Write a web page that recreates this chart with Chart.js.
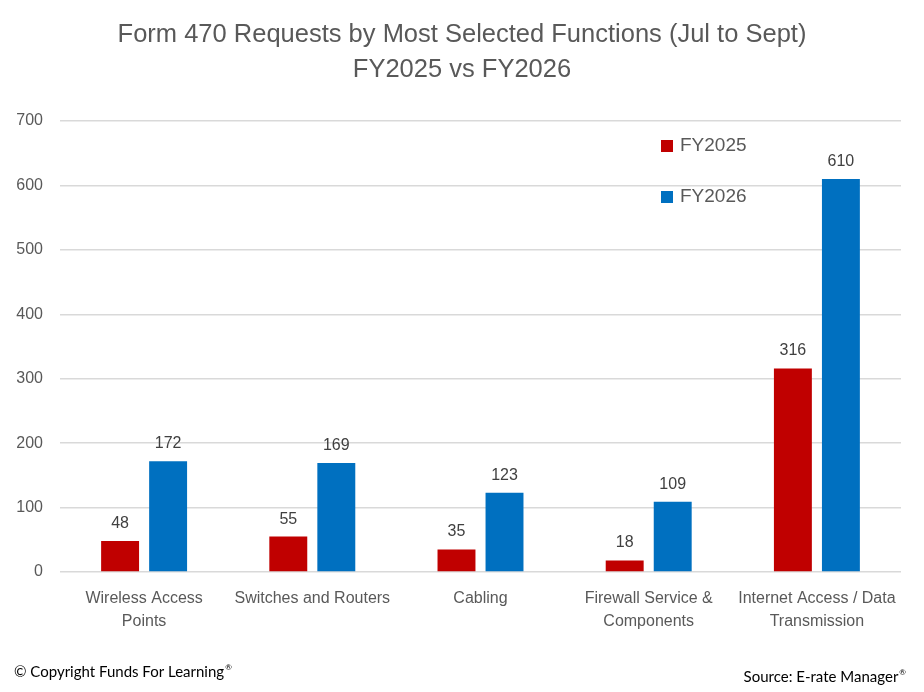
<!DOCTYPE html>
<html>
<head>
<meta charset="utf-8">
<script src="https://cdn.jsdelivr.net/npm/chart.js@4"></script>
<style>
  html, body { margin: 0; padding: 0; background: #fff; }
  #wrap { position: relative; width: 924px; height: 692px; }
</style>
</head>
<body>
<div id="wrap"><canvas id="chart" width="924" height="692"></canvas></div>
<script>
// ── Data ──────────────────────────────────────────────
const categories = [
  ["Wireless Access", "Points"],
  ["Switches and Routers"],
  ["Cabling"],
  ["Firewall Service &", "Components"],
  ["Internet Access / Data", "Transmission"],
];
const fy2025 = [48, 55, 35, 18, 316];
const fy2026 = [172, 169, 123, 109, 610];
const yTicks = [0, 100, 200, 300, 400, 500, 600, 700];

const titleLines = ["Form 470 Requests by Most Selected Functions (Jul to Sept)", "FY2025 vs FY2026"];
const RED = "#c00000";
const BLUE = "#0070c0";
const TEXT = "#595959";
const FONT = "'Liberation Sans', Arial, sans-serif";

// ── Plugins ───────────────────────────────────────────
// text with a small raised ® at the end
function textWithReg(ctx, str, x, y, align) {
  const main = "15px Lato, sans-serif";
  const small = "8px Lato, sans-serif";
  ctx.font = main;
  const w1 = ctx.measureText(str).width;
  ctx.font = small;
  const w2 = ctx.measureText("\u00AE").width + 1;
  const start = align === "right" ? x - w1 - w2 : x;
  ctx.textAlign = "left";
  ctx.font = main;
  ctx.fillText(str, start, y);
  ctx.font = small;
  ctx.fillText("\u00AE", start + w1 + 1, y - 5);
}

const decor = {
  id: "decor",
  afterDraw(chart) {
    const ctx = chart.ctx;
    ctx.save();

    // title
    ctx.fillStyle = TEXT;
    ctx.textAlign = "center";
    ctx.textBaseline = "middle";
    ctx.font = "25.5px " + FONT;
    ctx.fillText(titleLines[0], 462, 35);
    ctx.fillText(titleLines[1], 462, 70);

    // value labels above bars
    ctx.font = "16px " + FONT;
    ctx.fillStyle = "#404040";
    ctx.textBaseline = "alphabetic";
    chart.data.datasets.forEach((ds, di) => {
      chart.getDatasetMeta(di).data.forEach((bar, i) => {
        ctx.fillText(String(ds.data[i]), bar.x, bar.y - 13);
      });
    });

    // legend inside plot
    ctx.textAlign = "left";
    ctx.textBaseline = "middle";
    ctx.font = "19px " + FONT;
    chart.data.datasets.forEach((ds, di) => {
      const y = 146 + di * 51;
      ctx.fillStyle = ds.backgroundColor;
      ctx.fillRect(661, y - 6, 12, 12);
      ctx.fillStyle = TEXT;
      ctx.fillText(ds.label, 680, y);
    });

    // footer
    ctx.fillStyle = "#000";
    ctx.textBaseline = "middle";
    textWithReg(ctx, "\u00A9 Copyright Funds For Learning", 14, 672, "left");
    textWithReg(ctx, "Source: E-rate Manager", 906, 677, "right");

    ctx.restore();
  },
};

// ── Chart ─────────────────────────────────────────────
new Chart(document.getElementById("chart"), {
  type: "bar",
  data: {
    labels: categories,
    datasets: [
      { label: "FY2025", data: fy2025, backgroundColor: RED },
      { label: "FY2026", data: fy2026, backgroundColor: BLUE },
    ],
  },
  options: {
    responsive: false,
    animation: false,
    devicePixelRatio: 1,
    datasets: { bar: { categoryPercentage: 0.571, barPercentage: 0.79 } },
    layout: { padding: { top: 121, right: 23, left: 0, bottom: 0 } },
    plugins: {
      legend: { display: false },
      tooltip: { enabled: false },
    },
    scales: {
      x: {
        grid: { display: false },
        border: { display: false },
        ticks: {
          color: TEXT,
          font: { family: FONT, size: 16, lineHeight: 1.45 },
          padding: 7,
          maxRotation: 0,
          autoSkip: false,
        },
        afterFit: (s) => { s.height = 120; },
      },
      y: {
        min: 0,
        max: 700,
        afterBuildTicks: (s) => { s.ticks = yTicks.map(v => ({ value: v })); },
        grid: { color: "#d9d9d9", lineWidth: 1.5, drawTicks: false },
        border: { display: false },
        ticks: { color: TEXT, font: { family: FONT, size: 16 }, padding: 17 },
        afterFit: (s) => { s.width = 60; },
      },
    },
  },
  plugins: [decor],
});
</script>
</body>
</html>
